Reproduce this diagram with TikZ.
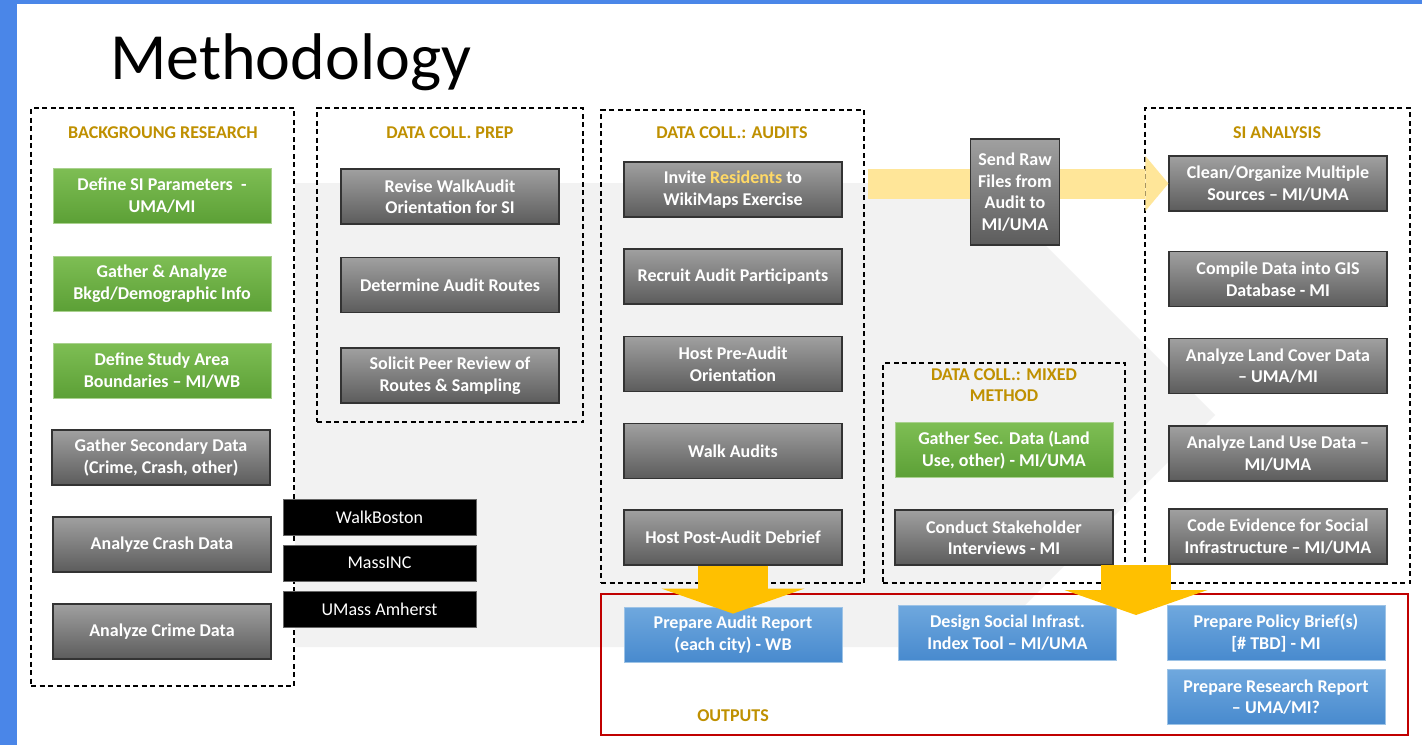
\documentclass[tikz,border=0pt]{standalone}
\usepackage{fontspec}
\setmainfont{Carlito}
\usetikzlibrary{arrows.meta}

\definecolor{frameblue}{RGB}{74,134,232}
\definecolor{phasegold}{RGB}{191,144,0}
\definecolor{resyellow}{RGB}{255,217,102}
\definecolor{flowyellow}{RGB}{255,230,153}
\definecolor{outorange}{RGB}{255,192,0}
\definecolor{chevgray}{RGB}{242,242,242}
\definecolor{graytop}{RGB}{160,160,160}
\definecolor{graybot}{RGB}{92,92,92}
\definecolor{greentop}{RGB}{126,190,84}
\definecolor{greenbot}{RGB}{92,160,54}
\definecolor{greenline}{RGB}{169,209,142}
\definecolor{bluetop}{RGB}{111,168,222}
\definecolor{bluebot}{RGB}{72,138,206}
\definecolor{blueline}{RGB}{157,195,230}
\definecolor{outred}{RGB}{192,0,0}

\begin{document}
\begin{tikzpicture}[x=1pt, y=-1pt, every node/.style={font=\fontsize{18}{21.5}\selectfont},
    % Task box styles
    graytask/.style={
        draw=black!80, line width=1.2pt,
        top color=graytop, bottom color=graybot, text=white,
        minimum width=218pt, minimum height=55pt, inner sep=2pt,
        font=\fontsize{18}{21.5}\selectfont\bfseries, align=center
    },
    greentask/.style={
        graytask, draw=greenline, line width=0.8pt,
        top color=greentop, bottom color=greenbot
    },
    bluetask/.style={
        graytask, draw=blueline, line width=0.8pt,
        top color=bluetop, bottom color=bluebot
    },
    partner/.style={
        draw=black!60, fill=black, text=white, line width=0.6pt,
        minimum width=193pt, minimum height=36pt, inner sep=2pt
    },
    % Phase frames and titles
    phaseframe/.style={
        draw=black, line width=1.4pt, dash pattern=on 5pt off 3.5pt,
        inner sep=0pt
    },
    phasetitle/.style={
        text=phasegold, font=\fontsize{18}{20.5}\selectfont\bfseries, align=center
    },
    % Flow arrows
    flowarrow/.style={
        draw=flowyellow, line width=30pt,
        -{Triangle[width=55pt, length=23pt, line width=0pt]}
    },
    outarrow/.style={
        draw=outorange, line width=70pt,
        -{Triangle[width=143pt, length=25pt, line width=0pt]}
    }
]
\useasboundingbox (0,0) rectangle (1422,745);

% =============================================
% BACKGROUND
% =============================================
\fill[white] (0,0) rectangle (1422,745);
\fill[frameblue] (0,0) rectangle (17,745);
\fill[frameblue] (0,0) rectangle (1422,4);

% big grey chevron behind the phases
\fill[chevgray] (295,183) -- (983,183) -- (1215,415) -- (983,647) -- (295,647) -- cycle;

\node[anchor=base west, font=\fontsize{66}{80}\selectfont, inner sep=0pt] (title) at (110,79) {Methodology};

% =============================================
% PHASE FRAMES
% =============================================
\node[phaseframe, minimum width=263pt, minimum height=578pt] (bgframe) at (162.5,397) {};
\node[phaseframe, minimum width=266pt, minimum height=314pt] (prepframe) at (450,265) {};
\node[phaseframe, minimum width=263pt, minimum height=473pt] (auditframe) at (732.5,346.5) {};
\node[phaseframe, minimum width=242pt, minimum height=220pt] (mixedframe) at (1004,473) {};
\node[phaseframe, minimum width=265pt, minimum height=475pt] (siframe) at (1277.5,345.5) {};
\node[draw=outred, line width=1.4pt, inner sep=0pt, minimum width=807pt, minimum height=141pt] (outframe) at (1004.5,664.5) {};

\node[phasetitle] (bgtitle) at (163,133) {BACKGROUNG RESEARCH};
\node[phasetitle] (preptitle) at (450,133) {DATA COLL. PREP};
\node[phasetitle] (audittitle) at (732,133) {DATA COLL.: AUDITS};
\node[phasetitle] (mixedtitle) at (1004,385) {DATA COLL.: MIXED\\METHOD};
\node[phasetitle] (sititle) at (1277,133) {SI ANALYSIS};
\node[phasetitle] (outtitle) at (733,716) {OUTPUTS};

% =============================================
% BACKGROUND RESEARCH
% =============================================
\node[greentask] (defsi) at (162,195.5) {Define SI Parameters~ -\\UMA/MI};
\node[greentask] (bkgd) at (162,283.5) {Gather \& Analyze\\Bkgd/Demographic Info};
\node[greentask] (studyarea) at (162,370.5) {Define Study Area\\Boundaries – MI/WB};
\node[graytask] (secdata) at (161,457.5) {Gather Secondary Data\\(Crime, Crash, other)};
\node[graytask] (crash) at (162,544.5) {Analyze Crash Data};
\node[graytask] (crime) at (162,631.5) {Analyze Crime Data};

% partners
\node[partner] (walkboston) at (379.5,517) {WalkBoston};
\node[partner] (massinc) at (379.5,563) {MassINC};
\node[partner] (umass) at (379.5,609.5) {UMass Amherst};

% =============================================
% DATA COLLECTION PREP
% =============================================
\node[graytask] (revise) at (450,196.5) {Revise WalkAudit\\Orientation for SI};
\node[graytask] (routes) at (450,285) {Determine Audit Routes};
\node[graytask] (peer) at (450,375.5) {Solicit Peer Review of\\Routes \& Sampling};

% =============================================
% DATA COLLECTION: AUDITS
% =============================================
\node[graytask] (invite) at (733,189.5) {Invite \textcolor{resyellow}{Residents} to\\WikiMaps Exercise};
\node[graytask] (recruit) at (733,276.5) {Recruit Audit Participants};
\node[graytask] (preaudit) at (733,364) {Host Pre-Audit\\Orientation};
\node[graytask] (walk) at (733,451) {Walk Audits};
\node[graytask] (debrief) at (733,537.5) {Host Post-Audit Debrief};

% =============================================
% SI ANALYSIS
% =============================================
\node[graytask] (clean) at (1278,183.5) {Clean/Organize Multiple\\Sources – MI/UMA};

% raw files go from the audits to the analysis
\draw[flowarrow] (auditframe.east |- clean.west) ++(3,0) -- (clean.west);
\node[graytask, minimum width=89pt, minimum height=106pt, inner sep=1pt] (sendraw) at (1015,192)
    {Send Raw\\Files from\\Audit to\\MI/UMA};

\node[graytask] (compile) at (1278,279) {Compile Data into GIS\\Database - MI};
\node[graytask] (landcover) at (1278,366) {Analyze Land Cover Data\\– UMA/MI};
\node[graytask] (landuse) at (1278,453.5) {Analyze Land Use Data –\\MI/UMA};
\node[graytask] (evidence) at (1278,536.5) {Code Evidence for Social\\Infrastructure – MI/UMA};

% =============================================
% DATA COLLECTION: MIXED METHOD
% =============================================
\node[greentask] (secland) at (1004,450) {Gather Sec. Data (Land\\Use, other) - MI/UMA};
\node[graytask] (stakeholder) at (1004,537.5) {Conduct Stakeholder\\Interviews - MI};

% =============================================
% OUTPUTS
% =============================================
\node[bluetask] (auditrep) at (733,634.5) {Prepare Audit Report\\(each city) - WB};
\node[bluetask] (indextool) at (1007.5,632.5) {Design Social Infrast.\\Index Tool – MI/UMA};
\node[bluetask] (policy) at (1276,633) {Prepare Policy Brief(s)\\{[\# TBD]} - MI};
\node[bluetask] (research) at (1276,697) {Prepare Research Report\\– UMA/MI?};

\coordinate (analysisout) at (1136,565);
\coordinate (outputsin) at (1136,615);

\draw[outarrow, shorten >=-7pt] (debrief.south) -- (auditrep.north);
\draw[outarrow] (analysisout) -- (outputsin);

\end{tikzpicture}
\end{document}
